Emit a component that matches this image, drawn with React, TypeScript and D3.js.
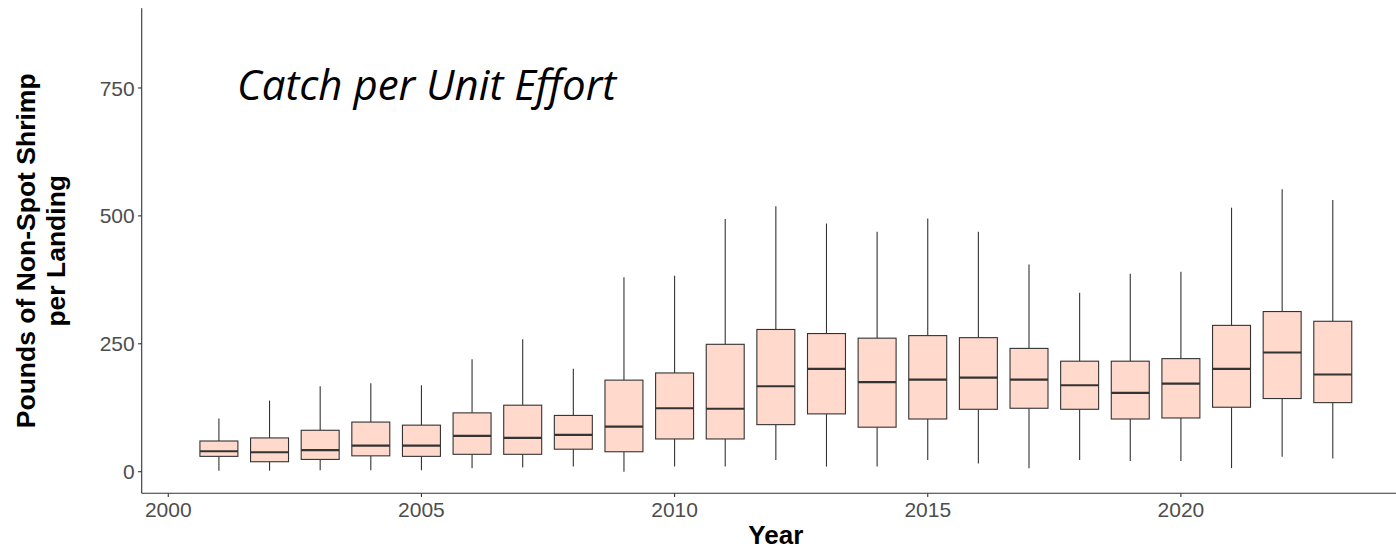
import React from "react";
import * as d3 from "d3";

const years = [2001, 2002, 2003, 2004, 2005, 2006, 2007, 2008, 2009, 2010, 2011, 2012, 2013, 2014, 2015, 2016, 2017, 2018, 2019, 2020, 2021, 2022, 2023];
const whiskerLow = [2, 2, 3, 3, 3, 7, 8, 10, 0, 10, 10, 23, 10, 10, 23, 16, 7, 23, 21, 21, 7, 29, 26];
const q1 = [30, 19.5, 24, 31, 30, 34, 34, 44, 39, 64, 64, 92, 113, 87, 103, 122, 124, 122, 103, 105, 126, 143, 135];
const medians = [40, 38, 42, 51, 51, 70, 66, 72, 88, 124, 123, 167, 201, 175, 180, 184, 180, 169, 154, 172, 201, 233, 190];
const q3 = [60, 66, 81, 97, 91, 115, 130, 110, 179, 193, 249, 278, 270, 261, 266, 262, 241, 216, 216, 221, 286, 313, 294];
const whiskerHigh = [104, 139, 167, 173, 169, 220, 259, 201, 380, 383, 494, 519, 485, 469, 495, 469, 405, 350, 387, 391, 516, 552, 531];

const xTicks = [2000, 2005, 2010, 2015, 2020];
const yTicks = [0, 250, 500, 750];

const title = "Catch per Unit Effort";
const xTitle = "Year";
const yTitleLines = ["Pounds of Non-Spot Shrimp", "per Landing"];

const W = 1396;
const H = 549;
const panel = { left: 141.7, right: 1410, top: 8.3, bottom: 493.3 };

export default function App() {
  const x = d3.scaleLinear().domain([1999.475, 2024.525]).range([panel.left, panel.right]);
  const y = d3.scaleLinear().domain([-42.2, 905.7]).range([panel.bottom, panel.top]);
  const boxW = x(2000.75) - x(2000);
  const axisColor = "#333333";
  const tickColor = "#4D4D4D";
  const sans = "'Liberation Sans', Arial, sans-serif";
  const yMid = (panel.top + panel.bottom) / 2;
  const xMid = (panel.left + panel.right) / 2;

  return (
    <svg width={W} height={H} style={{ position: "absolute", left: 0, top: 0, display: "block", background: "#fff" }}>
      <rect x={0} y={0} width={W} height={H} fill="#ffffff" />
      {years.map((yr, i) => {
        const cx = x(yr);
        return (
          <g key={yr}>
            <line x1={cx} x2={cx} y1={y(whiskerHigh[i])} y2={y(q3[i])} stroke={axisColor} strokeWidth={1.1} />
            <line x1={cx} x2={cx} y1={y(q1[i])} y2={y(whiskerLow[i])} stroke={axisColor} strokeWidth={1.1} />
            <rect x={cx - boxW / 2} y={y(q3[i])} width={boxW} height={y(q1[i]) - y(q3[i])} fill="#FFD9CC" stroke={axisColor} strokeWidth={1.1} />
            <line x1={cx - boxW / 2} x2={cx + boxW / 2} y1={y(medians[i])} y2={y(medians[i])} stroke={axisColor} strokeWidth={2.2} />
          </g>
        );
      })}
      {/* axes */}
      <line x1={panel.left} x2={panel.left} y1={panel.top} y2={panel.bottom} stroke={axisColor} strokeWidth={1.1} />
      <line x1={panel.left} x2={panel.right} y1={panel.bottom} y2={panel.bottom} stroke={axisColor} strokeWidth={1.1} />
      {yTicks.map((t) => (
        <g key={"y" + t}>
          <line x1={panel.left - 3.7} x2={panel.left} y1={y(t)} y2={y(t)} stroke={axisColor} strokeWidth={1.1} />
          <text x={panel.left - 7} y={y(t)} dy="0.36em" textAnchor="end" fontFamily={sans} fontSize={21} fill={tickColor}>
            {t}
          </text>
        </g>
      ))}
      {xTicks.map((t) => (
        <g key={"x" + t}>
          <line x1={x(t)} x2={x(t)} y1={panel.bottom} y2={panel.bottom + 3.7} stroke={axisColor} strokeWidth={1.1} />
          <text x={x(t)} y={517} textAnchor="middle" fontFamily={sans} fontSize={21} fill={tickColor}>
            {t}
          </text>
        </g>
      ))}
      <text x={xMid} y={544} textAnchor="middle" fontFamily={sans} fontWeight="bold" fontSize={26} fill="#000">
        {xTitle}
      </text>
      <text transform={`translate(0, ${yMid}) rotate(-90)`} textAnchor="middle" fontFamily={sans} fontWeight="bold" fontSize={26.5} fill="#000">
        <tspan x={0} y={35}>{yTitleLines[0]}</tspan>
        <tspan x={0} y={65}>{yTitleLines[1]}</tspan>
      </text>
      <text x={237} y={100} fontFamily="'Open Sans', 'Noto Sans', sans-serif" fontStyle="italic" fontSize={42} fill="#000">
        {title}
      </text>
    </svg>
  );
}
